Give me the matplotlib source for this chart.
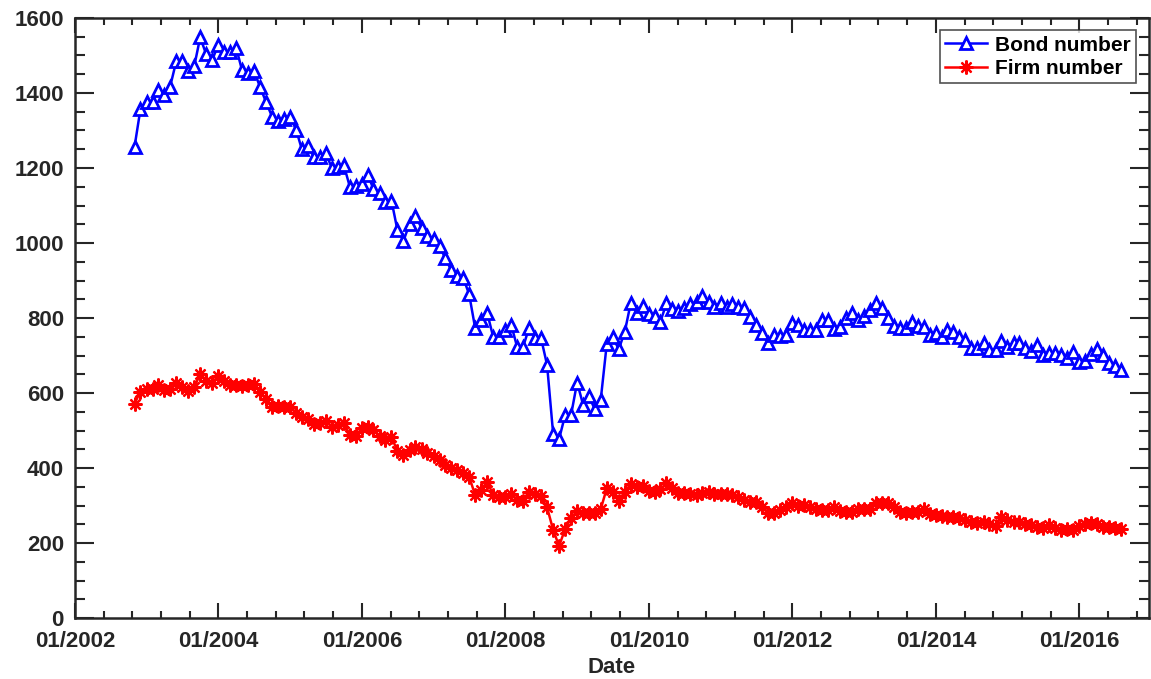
import numpy as np
import pandas as pd
import matplotlib
matplotlib.use("Agg")
import matplotlib.pyplot as plt
import matplotlib.dates as mdates
from matplotlib.ticker import MultipleLocator, FixedLocator

# ---------------- data ----------------
start_date = "2002-10-31"
n_months = 166
dates = pd.date_range(start_date, periods=n_months, freq="ME")

bond_number = [
    1257, 1357, 1377, 1377, 1408, 1395, 1417, 1484, 1484, 1459,
    1472, 1548, 1503, 1488, 1528, 1510, 1510, 1521, 1461, 1454,
    1459, 1416, 1375, 1337, 1326, 1330, 1337, 1301, 1251, 1259,
    1230, 1230, 1241, 1200, 1204, 1208, 1150, 1152, 1157, 1181,
    1144, 1133, 1110, 1113, 1035, 1006, 1051, 1072, 1040, 1019,
    1012, 992, 960, 928, 912, 907, 864, 773, 795, 814,
    749, 749, 768, 781, 724, 723, 773, 747, 747, 675,
    491, 477, 541, 541, 628, 568, 592, 557, 581, 731,
    749, 717, 764, 840, 814, 832, 810, 805, 790, 840,
    824, 819, 827, 837, 844, 859, 844, 829, 840, 829,
    837, 829, 827, 803, 781, 760, 733, 755, 752, 755,
    787, 781, 768, 768, 768, 795, 795, 771, 777, 800,
    813, 795, 805, 821, 840, 827, 800, 779, 773, 773,
    790, 779, 777, 755, 761, 750, 768, 764, 750, 741,
    720, 720, 734, 715, 715, 739, 723, 734,
    733, 720, 712, 728, 701, 707, 707, 701, 693, 709,
    683, 685, 704, 717, 701, 680, 672, 661,
]

firm_number = [
    572, 604, 610, 610, 621, 608, 610, 628, 617, 606,
    615, 651, 633, 628, 645, 633, 621, 621, 619, 621,
    624, 604, 583, 562, 565, 564, 562, 548, 535, 530,
    517, 521, 526, 510, 515, 521, 488, 485, 506, 509,
    501, 485, 476, 482, 446, 435, 448,
    457, 452, 439, 432, 421, 408, 399, 395, 386, 377,
    328, 341, 364, 328, 322, 322, 331, 316, 313, 337,
    331, 325, 295, 235, 192, 237, 266, 286, 281, 281,
    281, 290, 346, 337, 313, 337, 357, 350, 352, 339,
    337, 343, 359, 346, 334,
    334, 331, 328, 334, 337, 332, 332, 331, 328, 324,
    315, 310, 310, 297, 281, 281, 288, 297, 306, 299,
    301, 297, 290, 289, 288, 297, 286, 284, 284, 290,
    290, 292, 306, 308, 306, 295, 284, 281, 283, 284,
    290, 277, 275, 272, 270, 269, 266, 261, 257, 254,
    257, 251, 245, 270, 261, 257,
    257, 252, 248, 244, 239, 248, 239, 235, 237, 235,
    245, 251, 254, 251, 244, 243, 240, 237,
]

series_labels = ["Bond number", "Firm number"]
x_label = "Date"

# ---------------- figure ----------------
plt.rcParams["font.family"] = ["Liberation Sans", "DejaVu Sans"]
plt.rcParams["font.weight"] = "bold"

fig = plt.figure(figsize=(11.51, 6.79), dpi=100)
ax = fig.add_axes([0.0652, 0.0898, 0.9330, 0.8837])

ax.plot(dates, bond_number, color="#0000ff", lw=1.8, marker="^", ms=8.5,
        mfc="white", mec="#0000ff", mew=2.0, label=series_labels[0])
ax.plot(dates, firm_number, color="#ff0000", lw=1.8, marker=(8, 2, 0), ms=10,
        mec="#ff0000", mew=1.6, label=series_labels[1])

ax.set_ylim(0, 1600)
ax.set_xlim(mdates.date2num(pd.Timestamp("2002-01-01")),
            mdates.date2num(pd.Timestamp("2016-12-20")))

ax.yaxis.set_major_locator(MultipleLocator(200))
ax.yaxis.set_minor_locator(MultipleLocator(50))

major_years = list(range(2002, 2017, 2))
major_pos = [mdates.date2num(pd.Timestamp(f"{y}-01-01")) for y in major_years]
step = (major_pos[1] - major_pos[0]) / 5.0
minor_pos = []
for p in major_pos + [major_pos[-1] + 5 * step]:
    for k in range(1, 5):
        minor_pos.append(p + k * step)
ax.xaxis.set_major_locator(FixedLocator(major_pos))
ax.xaxis.set_minor_locator(FixedLocator(minor_pos))
ax.xaxis.set_major_formatter(mdates.DateFormatter("%m/%Y"))

spine_color = "#262626"
for s in ax.spines.values():
    s.set_linewidth(1.8)
    s.set_color(spine_color)

ax.tick_params(axis="both", which="both", direction="in", top=True, right=True,
               color=spine_color, width=1.5, labelsize=16, labelcolor="#262626")
ax.tick_params(axis="x", which="major", length=11, pad=9)
ax.tick_params(axis="x", which="minor", length=5)
ax.tick_params(axis="y", which="major", length=14, pad=8)
ax.tick_params(axis="y", which="minor", length=7)
for lab in ax.get_xticklabels() + ax.get_yticklabels():
    lab.set_fontweight("bold")

ax.set_xlabel(x_label, fontsize=16, fontweight="bold", color="#262626", labelpad=4)

leg = ax.legend(loc="upper right", prop={"weight": "bold", "size": 15},
                frameon=True, fancybox=False, edgecolor="#262626",
                handlelength=2.0, borderpad=0.25, labelspacing=0.2,
                handletextpad=0.4, borderaxespad=0.6)
leg.get_frame().set_linewidth(1.2)

fig.savefig("out.png", dpi=100, facecolor="white")
